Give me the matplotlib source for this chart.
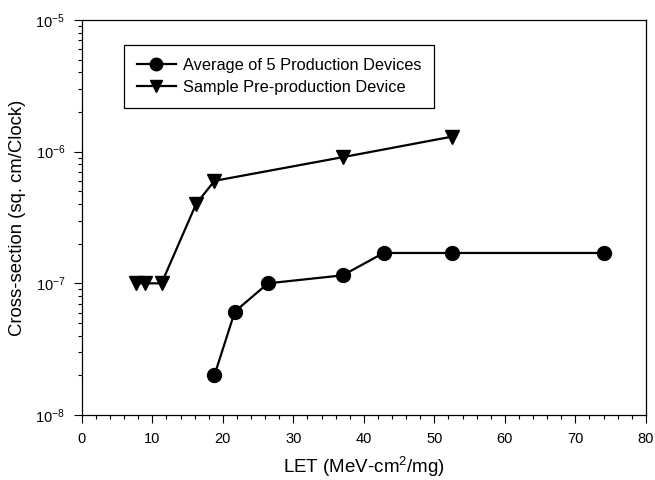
import matplotlib
matplotlib.use("Agg")
import matplotlib.pyplot as plt
from matplotlib.ticker import MultipleLocator, LogLocator, NullFormatter

plt.rcParams['font.family'] = ['Liberation Sans', 'DejaVu Sans']
plt.rcParams['mathtext.fontset'] = 'custom'
plt.rcParams['mathtext.rm'] = 'Liberation Sans'
plt.rcParams['mathtext.it'] = 'Liberation Sans:italic'

# LET (MeV-cm^2/mg) and cross-section (sq. cm/Clock)
prod_let = [18.8, 21.7, 26.4, 37.0, 42.8, 52.5, 74.1]
prod_xs = [2.0e-8, 6.1e-8, 1.0e-7, 1.15e-7, 1.7e-7, 1.7e-7, 1.7e-7]

pre_let = [7.7, 9.0, 11.3, 16.2, 18.8, 37.1, 52.5]
pre_xs = [1.0e-7, 1.0e-7, 1.0e-7, 4.0e-7, 6.0e-7, 9.1e-7, 1.3e-6]

fig = plt.figure(figsize=(6.55, 4.8), dpi=100)
ax = fig.add_axes([0.125, 0.1354, 0.861, 0.823])

ax.plot(prod_let, prod_xs, color='black', lw=1.6, marker='o', ms=10,
        label='Average of 5 Production Devices')
ax.plot(pre_let, pre_xs, color='black', lw=1.6, marker='v', ms=10,
        label='Sample Pre-production Device')

ax.set_yscale('log')
ax.set_xlim(0, 80)
ax.set_ylim(1e-8, 1e-5)

ax.xaxis.set_major_locator(MultipleLocator(10))
ax.xaxis.set_minor_locator(MultipleLocator(2))
ax.yaxis.set_major_locator(LogLocator(base=10))
ax.yaxis.set_minor_locator(LogLocator(base=10, subs=range(2, 10)))
ax.yaxis.set_minor_formatter(NullFormatter())

ax.tick_params(which='major', direction='out', length=6, width=0.8,
               labelsize=10.5, top=False, right=False, pad=6)
ax.tick_params(which='minor', direction='out', length=3, width=0.8,
               top=False, right=False)

for s in ax.spines.values():
    s.set_linewidth(0.9)

ax.set_xlabel('LET (MeV-cm$^{2}$/mg)', fontsize=13.5, labelpad=7)
ax.set_ylabel('Cross-section (sq. cm/Clock)', fontsize=13.3, labelpad=7)

leg = ax.legend(loc='upper left', bbox_to_anchor=(0.074, 0.937), borderaxespad=0,
                fancybox=False, edgecolor='black', framealpha=1, fontsize=11.8,
                handlelength=2.4, borderpad=0.8, labelspacing=0.4,
                handletextpad=0.4, markerscale=0.9)
leg.get_frame().set_linewidth(0.9)

fig.savefig('out.png', dpi=100)
